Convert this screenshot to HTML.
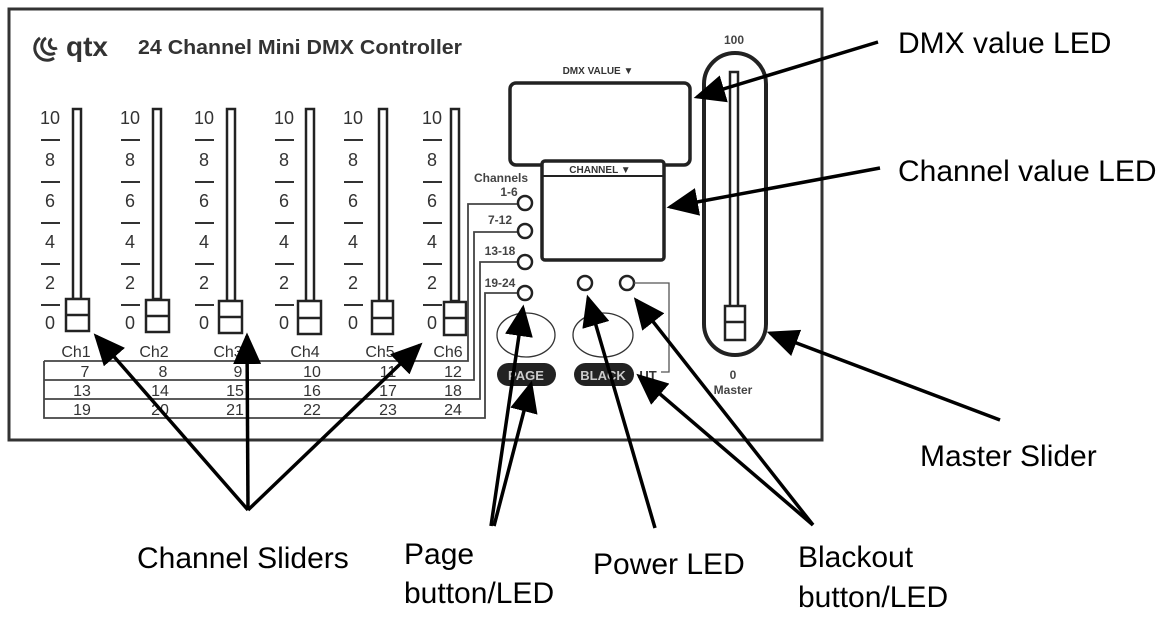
<!DOCTYPE html>
<html><head><meta charset="utf-8"><style>
html,body{margin:0;padding:0;background:#fff;}
svg{display:block;}
.lbl{font-family:"Liberation Sans",sans-serif;font-size:30px;fill:#000;}
.sm{font-family:"Liberation Sans",sans-serif;font-weight:bold;fill:#333;}
</style></head><body>
<svg width="1167" height="621" viewBox="0 0 1167 621" xmlns="http://www.w3.org/2000/svg">
<defs>
<marker id="ah" markerWidth="9" markerHeight="8" refX="8" refY="4" orient="auto" markerUnits="strokeWidth">
<path d="M0,0 L9,4 L0,8 z" fill="#000"/>
</marker>
</defs>
<rect x="9" y="9" width="813" height="431" fill="#fff" stroke="#333" stroke-width="3"/>
<g fill="none" stroke="#333" stroke-width="3">
<path d="M40,38 a12,12 0 0 0 14,20"/><path d="M46,38 a8,8 0 0 0 9,15"/><path d="M52,39 a4,4 0 0 0 5,9"/>
</g>
<text x="66" y="56" class="sm" font-size="28" fill="#333">qtx</text>
<text x="138" y="54" class="sm" font-size="20.5" textLength="324" lengthAdjust="spacingAndGlyphs">24 Channel Mini DMX Controller</text>
<g font-family="Liberation Sans,sans-serif" font-size="18" fill="#333" text-anchor="middle" stroke="none">
<g transform="translate(50,0)"><text y="124">10</text><text y="166">8</text><text y="207">6</text><text y="248">4</text><text y="289">2</text><text y="329">0</text></g>
<g transform="translate(130,0)"><text y="124">10</text><text y="166">8</text><text y="207">6</text><text y="248">4</text><text y="289">2</text><text y="329">0</text></g>
<g transform="translate(204,0)"><text y="124">10</text><text y="166">8</text><text y="207">6</text><text y="248">4</text><text y="289">2</text><text y="329">0</text></g>
<g transform="translate(284,0)"><text y="124">10</text><text y="166">8</text><text y="207">6</text><text y="248">4</text><text y="289">2</text><text y="329">0</text></g>
<g transform="translate(353,0)"><text y="124">10</text><text y="166">8</text><text y="207">6</text><text y="248">4</text><text y="289">2</text><text y="329">0</text></g>
<g transform="translate(432,0)"><text y="124">10</text><text y="166">8</text><text y="207">6</text><text y="248">4</text><text y="289">2</text><text y="329">0</text></g>
</g>
<g stroke="#333" stroke-width="2">
<path d="M41,140h19M41,182h19M41,223h19M41,264h19M41,305h19"/>
<path d="M121,140h19M121,182h19M121,223h19M121,264h19M121,305h19"/>
<path d="M195,140h19M195,182h19M195,223h19M195,264h19M195,305h19"/>
<path d="M275,140h19M275,182h19M275,223h19M275,264h19M275,305h19"/>
<path d="M344,140h19M344,182h19M344,223h19M344,264h19M344,305h19"/>
<path d="M423,140h19M423,182h19M423,223h19M423,264h19M423,305h19"/>
</g>
<g stroke="#222" stroke-width="2.5" fill="#fff">
<rect x="73" y="109" width="8" height="190"/><rect x="66" y="299" width="23" height="32"/><path d="M66,315h23"/>
<rect x="153" y="109" width="8" height="190"/><rect x="146" y="300" width="23" height="32"/><path d="M146,316h23"/>
<rect x="227" y="109" width="8" height="192"/><rect x="219" y="301" width="23" height="32"/><path d="M219,317h23"/>
<rect x="306" y="109" width="8" height="192"/><rect x="298" y="301" width="23" height="33"/><path d="M298,318h23"/>
<rect x="379" y="109" width="8" height="192"/><rect x="372" y="301" width="21" height="33"/><path d="M372,318h21"/>
<rect x="451" y="109" width="8" height="192"/><rect x="444" y="302" width="22" height="33"/><path d="M444,318h22"/>
</g>
<g font-family="Liberation Sans,sans-serif" font-size="16" fill="#333" text-anchor="middle">
<text x="76" y="357">Ch1</text><text x="154" y="357">Ch2</text><text x="228" y="357">Ch3</text><text x="305" y="357">Ch4</text><text x="380" y="357">Ch5</text><text x="448" y="357">Ch6</text>
<text x="85" y="377">7</text><text x="163" y="377">8</text><text x="238" y="377">9</text><text x="312" y="377">10</text><text x="388" y="377">11</text><text x="453" y="377">12</text>
<text x="82" y="396">13</text><text x="160" y="396">14</text><text x="235" y="396">15</text><text x="312" y="396">16</text><text x="388" y="396">17</text><text x="453" y="396">18</text>
<text x="82" y="415">19</text><text x="160" y="415">20</text><text x="235" y="415">21</text><text x="312" y="415">22</text><text x="388" y="415">23</text><text x="453" y="415">24</text>
</g>
<g fill="none" stroke="#444" stroke-width="1.8">
<path d="M44,361H468V204H518"/>
<path d="M44,361V418H485V293H518"/>
<path d="M44,380H474V232H518"/>
<path d="M44,399H480V262H518"/>
</g>
<g fill="#fff" stroke="#222" stroke-width="2.5">
<circle cx="525" cy="203" r="7"/><circle cx="525" cy="231" r="7"/><circle cx="525" cy="262" r="7"/><circle cx="525" cy="293" r="7"/>
<circle cx="585" cy="283" r="7"/><circle cx="627" cy="283" r="7"/>
</g>
<g font-family="Liberation Sans,sans-serif" font-size="12" font-weight="bold" fill="#444" text-anchor="middle">
<text x="501" y="182">Channels</text><text x="509" y="196">1-6</text><text x="500" y="224">7-12</text><text x="500" y="255">13-18</text><text x="500" y="287">19-24</text>
</g>
<path d="M634,283H669V372H661" fill="none" stroke="#555" stroke-width="1.3"/>
<rect x="510" y="83" width="180" height="82" rx="6" fill="#fff" stroke="#222" stroke-width="3.5"/>
<rect x="542" y="161" width="122" height="99" rx="3" fill="#fff" stroke="#222" stroke-width="3.5"/>
<path d="M542,176H664" stroke="#222" stroke-width="2"/>
<text x="598" y="74" text-anchor="middle" class="sm" font-size="10">DMX VALUE ▼</text>
<text x="600" y="173" text-anchor="middle" class="sm" font-size="10">CHANNEL ▼</text>
<ellipse cx="526" cy="335" rx="29" ry="22" fill="#fff" stroke="#333" stroke-width="1.3"/>
<ellipse cx="603" cy="335" rx="30" ry="22" fill="#fff" stroke="#333" stroke-width="1.3"/>
<rect x="497" y="363" width="59" height="23" rx="11.5" fill="#222"/>
<rect x="574" y="363" width="60" height="23" rx="11.5" fill="#222"/>
<text x="526" y="380" text-anchor="middle" font-family="Liberation Sans,sans-serif" font-weight="bold" font-size="13" fill="#ccc">PAGE</text>
<text x="603" y="380" text-anchor="middle" font-family="Liberation Sans,sans-serif" font-weight="bold" font-size="13" fill="#ccc">BLACK</text>
<text x="648" y="380" text-anchor="middle" font-family="Liberation Sans,sans-serif" font-weight="bold" font-size="13" fill="#333">UT</text>
<rect x="704" y="53" width="62" height="302" rx="31" fill="#fff" stroke="#222" stroke-width="4"/>
<rect x="730" y="72" width="8" height="235" fill="#fff" stroke="#222" stroke-width="2.5"/>
<rect x="725" y="306" width="20" height="34" fill="#fff" stroke="#222" stroke-width="2.5"/><path d="M725,322h20" stroke="#222" stroke-width="2.5"/>
<g font-family="Liberation Sans,sans-serif" font-size="12" font-weight="bold" fill="#444" text-anchor="middle">
<text x="734" y="44">100</text><text x="733" y="379">0</text><text x="733" y="394">Master</text>
</g>
<g stroke="#000" stroke-width="3.5" fill="none" marker-end="url(#ah)">
<path d="M878,42L697,97"/>
<path d="M880,168L670,207"/>
<path d="M1000,420L770,333"/>
<path d="M248,510L96,336"/>
<path d="M248,510L247,336"/>
<path d="M248,510L420,345"/>
<path d="M491,526L523,308"/>
<path d="M494,526L531,384"/>
<path d="M655,528L588,298"/>
<path d="M813,525L636,300"/>
<path d="M813,525L639,376"/>
</g>
<g class="lbl">
<text x="898" y="53">DMX value LED</text>
<text x="898" y="181">Channel value LED</text>
<text x="920" y="466">Master Slider</text>
<text x="137" y="568">Channel Sliders</text>
<text x="404" y="564">Page</text>
<text x="404" y="603">button/LED</text>
<text x="593" y="574">Power LED</text>
<text x="798" y="567">Blackout</text>
<text x="798" y="607">button/LED</text>
</g>
</svg>
</body></html>
